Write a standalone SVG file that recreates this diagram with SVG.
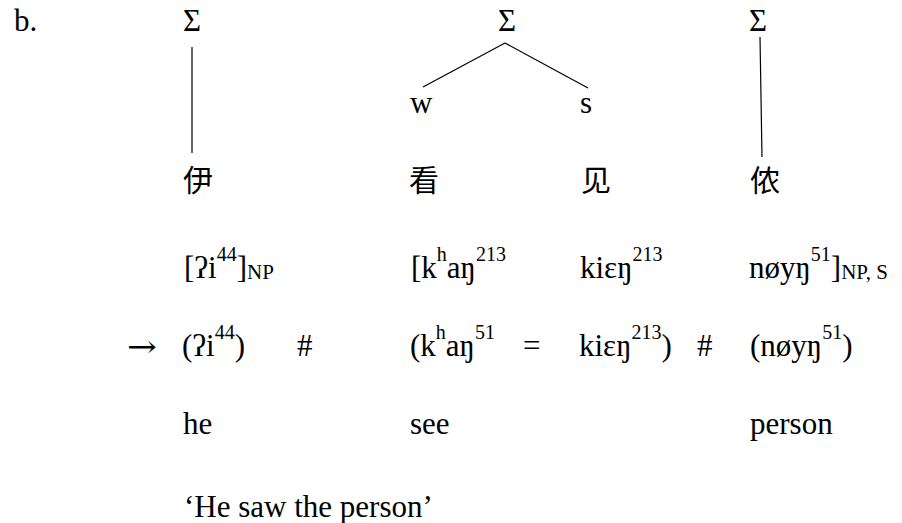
<svg xmlns="http://www.w3.org/2000/svg" width="902" height="523" viewBox="0 0 902 523">
<style>
text{font-family:"Liberation Serif","DejaVu Serif","Noto Sans CJK SC",serif;font-size:31px;fill:#000}
.cjk{font-family:"Noto Sans CJK SC","Noto Sans CJK TC",sans-serif;font-size:30px}
.arrow{font-family:"DejaVu Serif",serif;font-size:30px}
.sup{font-size:20px}
.sub{font-size:21px}
.edge{stroke:#000;stroke-width:1.2;fill:none}
</style>
<rect width="902" height="523" fill="#fff"/>
<g id="label-b"><text x="14" y="31">b.</text></g>
<g id="connectors">
<line class="edge" x1="192" y1="47" x2="192" y2="153"/>
<line class="edge" x1="505" y1="43" x2="423" y2="87"/>
<line class="edge" x1="505" y1="43" x2="588" y2="88"/>
<line class="edge" x1="760" y1="37" x2="762" y2="157"/>
</g>
<g id="sigma1"><text x="183" y="31">Σ</text></g>
<g id="sigma2"><text x="498" y="31">Σ</text></g>
<g id="sigma3"><text x="749" y="31">Σ</text></g>
<g id="w"><text x="410" y="113">w</text></g>
<g id="s"><text x="580" y="113">s</text></g>
<g id="char-yi"><text class="cjk" x="183" y="191">伊</text></g>
<g id="char-kan"><text class="cjk" x="409" y="191">看</text></g>
<g id="char-jian"><text class="cjk" x="581" y="191">见</text></g>
<g id="char-nong"><text class="cjk" x="750" y="191">侬</text></g>
<g id="row-underlying">
<text x="184" y="278">[ʔi<tspan class="sup" dy="-17">44</tspan><tspan dy="17">]</tspan><tspan class="sub" dy="1">NP</tspan></text>
<text x="411" y="278">[k<tspan class="sup" dy="-17">h</tspan><tspan dy="17">aŋ</tspan><tspan class="sup" dy="-17">213</tspan></text>
<text x="580" y="278">kiɛŋ<tspan class="sup" dy="-17">213</tspan></text>
<text x="749" y="278">nøyŋ<tspan class="sup" dy="-17">51</tspan><tspan dy="17">]</tspan><tspan class="sub" dy="1">NP, S</tspan></text>
</g>
<g id="row-surface">
<text class="arrow" x="127" y="357" textLength="30" lengthAdjust="spacingAndGlyphs">→</text>
<text x="182" y="356">(ʔi<tspan class="sup" dy="-17">44</tspan><tspan dy="17">)</tspan></text>
<text x="297" y="356">#</text>
<text x="410" y="356">(k<tspan class="sup" dy="-17">h</tspan><tspan dy="17">aŋ</tspan><tspan class="sup" dy="-17">51</tspan></text>
<text x="523" y="356">=</text>
<text x="579" y="356">kiɛŋ<tspan class="sup" dy="-17">213</tspan><tspan dy="17">)</tspan></text>
<text x="697" y="356">#</text>
<text x="750" y="356">(nøyŋ<tspan class="sup" dy="-17">51</tspan><tspan dy="17">)</tspan></text>
</g>
<g id="row-gloss">
<text x="183" y="434">he</text>
<text x="410" y="434">see</text>
<text x="750" y="434">person</text>
</g>
<g id="translation"><text x="184" y="517">‘He saw the person’</text></g>
</svg>
